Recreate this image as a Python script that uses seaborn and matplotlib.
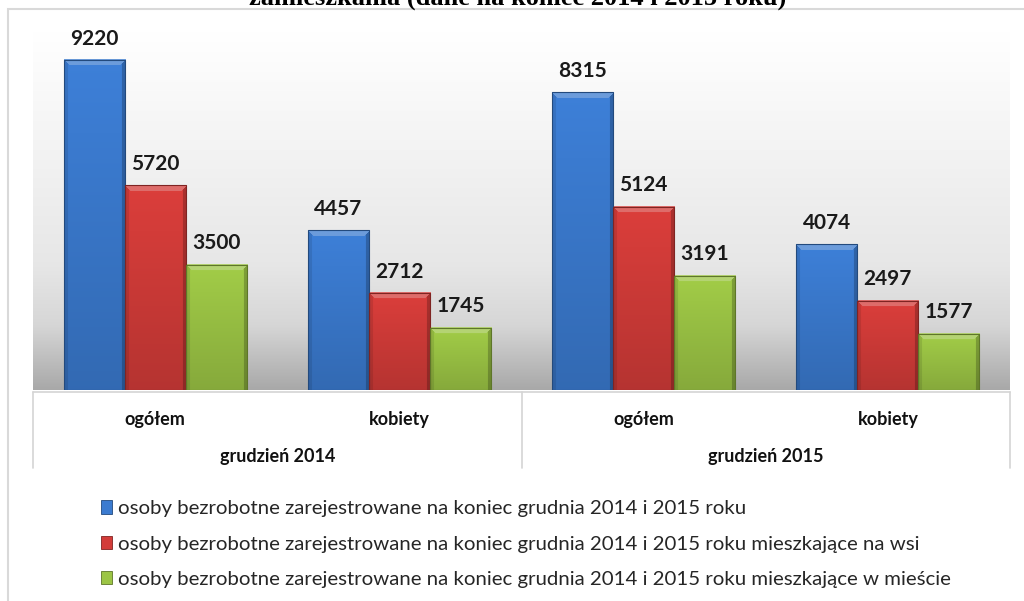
import numpy as np
import pandas as pd
import matplotlib
matplotlib.use("Agg")
import matplotlib.pyplot as plt
from matplotlib.patches import Patch, Rectangle
from matplotlib.colors import to_rgb
import matplotlib.transforms as mtransforms
import seaborn as sns

# ---------------- data ----------------
kategorie = ["ogółem 2014", "kobiety 2014", "ogółem 2015", "kobiety 2015"]
podkategorie = ["ogółem", "kobiety", "ogółem", "kobiety"]
grupy = ["grudzień 2014", "grudzień 2015"]
serie = [
    "osoby bezrobotne zarejestrowane na koniec grudnia 2014 i 2015 roku",
    "osoby bezrobotne zarejestrowane na koniec grudnia 2014 i 2015 roku mieszkające na wsi",
    "osoby bezrobotne zarejestrowane na koniec grudnia 2014 i 2015 roku mieszkające w mieście",
]
ogolem_bezrobotni = [9220, 4457, 8315, 4074]
wies = [5720, 2712, 5124, 2497]
miasto = [3500, 1745, 3191, 1577]
tytul = "zamieszkania (dane na koniec 2014 i 2015 roku)"

kolory = ["#3b7bd0", "#d33c39", "#9cc545"]

rows = []
for s, vals in zip(serie, [ogolem_bezrobotni, wies, miasto]):
    for k, v in zip(kategorie, vals):
        rows.append({"kategoria": k, "seria": s, "wartosc": v})
df = pd.DataFrame(rows)

# ---------------- figure ----------------
sns.set_theme(style="white")
plt.rcParams["font.family"] = ["Lato", "DejaVu Sans"]

W, H = 1024, 601
fig = plt.figure(figsize=(W / 100, H / 100), dpi=100)
fig.patch.set_facecolor("white")

ax_l, ax_r, ax_t, ax_b = 33, 1010, 32, 390
ax = fig.add_axes([ax_l / W, 1 - ax_b / H, (ax_r - ax_l) / W, (ax_b - ax_t) / H])

sns.barplot(data=df, x="kategoria", y="wartosc", hue="seria", order=kategorie,
            hue_order=serie, palette=kolory, width=0.75, ax=ax, legend=False,
            errorbar=None, saturation=1)

ax.set_ylim(0, 10000)
ax.set_xlim(-0.5, 3.5)
for sp in ax.spines.values():
    sp.set_visible(False)
ax.set_yticks([])
ax.set_xlabel("")
ax.set_ylabel("")

# background gradient of the plot area
t = np.linspace(0, 1, 400)  # 0 top -> 1 bottom
stops_t = [0.0, 0.35, 0.65, 0.82, 1.0]
stops_v = [1.0, 0.95, 0.905, 0.84, 0.66]
prof = np.interp(t, stops_t, stops_v)
bg = np.repeat(prof[:, None], 2, axis=1)
bg = np.dstack([bg, bg, bg])
ax.imshow(bg, extent=(0, 1, 0, 1), transform=ax.transAxes, aspect="auto",
          zorder=0, interpolation="bilinear")

# bevel shading for bars
px_per_x = (ax_r - ax_l) / 4.0
px_per_y = (ax_b - ax_t) / 10000.0
for patch in ax.patches:
    x0 = patch.get_x()
    w = patch.get_width()
    h = patch.get_height()
    if h <= 0:
        continue
    base = np.array(to_rgb(patch.get_facecolor()))
    wp = max(int(round(w * px_per_x)), 2)
    hp = max(int(round(h * px_per_y)), 2)
    ii, jj = np.mgrid[0:hp, 0:wp]
    vfac = np.interp(ii / max(hp - 1, 1), [0, 1], [1.04, 0.86])
    col = base[None, None, :] * vfac[..., None]
    b = 6
    dl = jj
    dr = wp - 1 - jj
    dt = ii
    top = (dt < b) & (dt <= dl) & (dt <= dr)
    left = (~top) & (dl < 4)
    right = (~top) & (dr < 4)
    col = np.where(top[..., None], np.clip(base * 0.75 + 0.25, 0, 1)[None, None, :], col)
    col = np.where(left[..., None], col * 0.9, col)
    col = np.where(right[..., None], col * 0.78, col)
    img = np.clip(col, 0, 1)
    ax.imshow(img, extent=(x0, x0 + w, 0, h), aspect="auto", zorder=2,
              interpolation="bilinear")
    patch.set_facecolor("none")
    patch.set_edgecolor(tuple(base * 0.6))
    patch.set_linewidth(0.8)
    patch.set_zorder(3)
    ax.annotate(f"{int(h)}", (x0 + w / 2, h), xytext=(0, 11),
                textcoords="offset points", ha="center", va="baseline",
                fontsize=15, fontweight="bold", color="#1a1a1a", zorder=4)

ax.set_xlim(-0.5, 3.5)
ax.set_ylim(0, 10000)

# category axis (two levels)
ax.set_xticks(range(len(kategorie)))
ax.set_xticklabels(podkategorie, fontsize=13, fontweight="bold", color="#111111")
ax.tick_params(axis="x", length=0, pad=15)

trans = mtransforms.blended_transform_factory(ax.transData, fig.transFigure)
for gi, g in enumerate(grupy):
    ax.text(gi * 2 + 0.5, 1 - 462 / H, g, transform=trans, ha="center", va="baseline",
            fontsize=13, fontweight="bold", color="#111111")

line_col = "#d4d4d4"
fig.add_artist(plt.Line2D([ax_l / W, ax_r / W], [1 - 392 / H, 1 - 392 / H],
                          color=line_col, lw=1.2, transform=fig.transFigure))
for xd in [-0.5, 1.5, 3.5]:
    xp = ax_l + (xd + 0.5) * px_per_x
    fig.add_artist(plt.Line2D([xp / W, xp / W], [1 - 392 / H, 1 - 468 / H],
                              color=line_col, lw=1.2, transform=fig.transFigure))

# outer frame
fig.add_artist(Rectangle((8 / W, -0.05), 1.1, 1 - 9 / H + 0.05, transform=fig.transFigure,
                         fill=False, ec="#d9d9d9", lw=1.5, clip_on=False))

# title (cropped at the top edge, as in the source)
fig.text(518 / W, 1 - 5 / H, tytul, ha="center", va="baseline",
         fontsize=19, fontweight="bold", family="Liberation Serif", color="black")

# legend
handles = [Patch(facecolor=c, edgecolor=tuple(np.array(to_rgb(c)) * 0.6), lw=0.6)
           for c in kolory]
fig.legend(handles, serie, loc="upper left", bbox_to_anchor=(93 / W, 1 - 492 / H),
           frameon=False, fontsize=14.7, handlelength=0.55, handleheight=0.62,
           handletextpad=0.25, labelspacing=0.9, borderaxespad=0,
           labelcolor="#262626")

fig.savefig("out.png", dpi=100)
